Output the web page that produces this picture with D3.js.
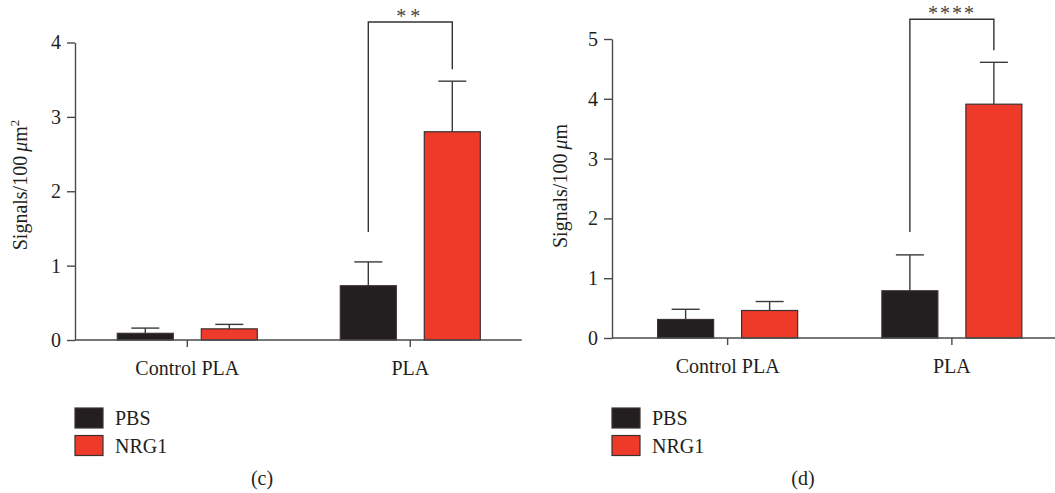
<!DOCTYPE html>
<html>
<head>
<meta charset="utf-8">
<script src="https://cdn.jsdelivr.net/npm/d3@7"></script>
<style>
  body { margin: 0; background: #fff; }
  svg text { font-family: "Liberation Serif", "Tinos", "Times New Roman", "DejaVu Serif", serif !important; fill: #231f20; }
</style>
</head>
<body>
<script>
// categories and series
const categories = ["Control PLA", "PLA"];
const series = ["PBS", "NRG1"];
const colors = ["#231f20", "#ee3a28"];

// panel (c): signals / 100 um^2
const cMeanPBS = [0.09, 0.73];
const cMeanNRG1 = [0.15, 2.80];
const cErrPBS = [0.07, 0.32];
const cErrNRG1 = [0.06, 0.68];
const cTicks = [0, 1, 2, 3, 4];

// panel (d): signals / 100 um
const dMeanPBS = [0.31, 0.79];
const dMeanNRG1 = [0.46, 3.91];
const dErrPBS = [0.17, 0.60];
const dErrNRG1 = [0.15, 0.70];
const dTicks = [0, 1, 2, 3, 4, 5];

const w = 1055, h = 493;

const svg = d3.select("body")
    .append("svg")
    .attr("width", w)
    .attr("height", h);

function drawPanel(p) {
    const g = svg.append("g");

    const y = d3.scaleLinear()
        .domain([0, d3.max(p.ticks)])
        .range([p.y0, p.y1]);

    const x = d3.scaleBand()
        .domain(categories)
        .range([p.xStart, p.xEnd]);

    //inner scale for the two bars in a group
    const xs = d3.scaleBand()
        .domain(series)
        .range([-70, 70])
        .paddingInner(1 / 3);

    const rows = [];
    categories.forEach(function(c, i) {
        rows.push({cat: c, s: "PBS", v: p.pbs[i], e: p.pbsErr[i], col: colors[0]});
        rows.push({cat: c, s: "NRG1", v: p.nrg[i], e: p.nrgErr[i], col: colors[1]});
    });
    const cx = function(d) { return x(d.cat) + x.bandwidth() / 2 + xs(d.s) + xs.bandwidth() / 2; };

    // error bars (upper only)
    g.selectAll(".errLine")
        .data(rows)
        .enter()
        .append("line")
        .attr("x1", cx).attr("x2", cx)
        .attr("y1", function(d) { return y(d.v); })
        .attr("y2", function(d) { return y(d.v + d.e); })
        .style("stroke", "#3a3a3a")
        .style("stroke-width", 1.4);

    g.selectAll(".errCap")
        .data(rows)
        .enter()
        .append("line")
        .attr("x1", function(d) { return cx(d) - xs.bandwidth() / 4; })
        .attr("x2", function(d) { return cx(d) + xs.bandwidth() / 4; })
        .attr("y1", function(d) { return y(d.v + d.e); })
        .attr("y2", function(d) { return y(d.v + d.e); })
        .style("stroke", "#3a3a3a")
        .style("stroke-width", 1.4);

    // bars
    g.selectAll(".bar")
        .data(rows)
        .enter()
        .append("rect")
        .attr("x", function(d) { return cx(d) - xs.bandwidth() / 2; })
        .attr("y", function(d) { return y(d.v); })
        .attr("width", xs.bandwidth())
        .attr("height", function(d) { return y(0) - y(d.v); })
        .style("fill", function(d) { return d.col; })
        .style("stroke", "#3b3133")
        .style("stroke-width", 1.2);

    // y axis
    const yAxis = d3.axisLeft(y)
        .tickValues(p.ticks)
        .tickFormat(d3.format("d"))
        .tickSize(8)
        .tickSizeOuter(0)
        .tickPadding(6);
    const ya = g.append("g")
        .attr("transform", "translate(" + p.xAxis + ",0)")
        .call(yAxis)
        .attr("font-family", null);
    ya.selectAll("path, line").style("stroke", "#4a4a4a").style("stroke-width", 1.4);
    ya.selectAll("text")
        .style("font-size", "20px")
        .style("fill", "#231f20");

    // x axis
    const xAxis = d3.axisBottom(x).tickSize(7).tickSizeOuter(0).tickPadding(14);
    const xa = g.append("g")
        .attr("transform", "translate(0," + y(0) + ")")
        .call(xAxis)
        .attr("font-family", null);
    xa.select(".domain").remove();
    xa.append("line")
        .attr("x1", p.xAxis).attr("x2", p.xEnd)
        .style("stroke", "#4a4a4a").style("stroke-width", 1.6);
    xa.selectAll("line").style("stroke", "#4a4a4a").style("stroke-width", 1.4);
    xa.selectAll("text")
        .style("font-size", "20px")
        .style("fill", "#231f20");

    // y label
    const lab = g.append("text")
        .attr("transform", "translate(" + p.labelX + "," + p.labelY + ") rotate(-90)")
        .attr("text-anchor", "middle")
        .style("font-size", "20px");
    lab.append("tspan").text("Signals/100\u2009");
    lab.append("tspan").style("font-style", "italic").text("\u03bc");
    lab.append("tspan").text("m");
    if (p.squared) {
        lab.append("tspan").attr("dy", -8).style("font-size", "13px").text("2");
    }

    // significance bracket between PBS and NRG1 in PLA
    const pb = rows[2], nr = rows[3];
    const by = y(p.sigLevel);
    g.append("path")
        .attr("d", "M" + cx(pb) + "," + (y(pb.v + pb.e) - p.legGap) +
            "V" + by + "H" + cx(nr) + "V" + (y(nr.v + nr.e) - 12))
        .style("fill", "none")
        .style("stroke", "#333")
        .style("stroke-width", 1.4);
    g.append("text")
        .attr("x", (cx(pb) + cx(nr)) / 2)
        .attr("y", by + 1)
        .attr("text-anchor", "middle")
        .style("font-size", "20px")
        .style("letter-spacing", p.starSpacing + "px")
        .style("fill", "#444")
        .text(p.stars);

    // legend
    const leg = g.selectAll(".leg")
        .data(series)
        .enter()
        .append("g")
        .attr("transform", function(d, i) { return "translate(" + p.xAxis + "," + (408 + i * 27.5) + ")"; });
    leg.append("rect")
        .attr("width", 28)
        .attr("height", 20)
        .style("fill", function(d, i) { return colors[i]; })
        .style("stroke", "#3b3133")
        .style("stroke-width", 1.2);
    leg.append("text")
        .attr("x", 40)
        .attr("y", 17)
        .style("font-size", "20px")
        .text(function(d) { return d; });

    g.append("text")
        .attr("x", p.capX)
        .attr("y", 485)
        .attr("text-anchor", "middle")
        .style("font-size", "20px")
        .text(p.caption);
}

drawPanel({
    pbs: cMeanPBS, nrg: cMeanNRG1, pbsErr: cErrPBS, nrgErr: cErrNRG1,
    ticks: cTicks, y0: 340, y1: 42.5,
    xAxis: 75, xStart: 75.8, xEnd: 521.8,
    labelX: 27, labelY: 185, squared: true,
    sigLevel: 4.275, legGap: 30, stars: "**", starSpacing: 4,
    caption: "(c)", capX: 262
});

drawPanel({
    pbs: dMeanPBS, nrg: dMeanNRG1, pbsErr: dErrPBS, nrgErr: dErrNRG1,
    ticks: dTicks, y0: 338, y1: 39,
    xAxis: 612, xStart: 615.5, xEnd: 1064,
    labelX: 567, labelY: 186, squared: false,
    sigLevel: 5.33, legGap: 23, stars: "****", starSpacing: 2,
    caption: "(d)", capX: 803
});
</script>
</body>
</html>
